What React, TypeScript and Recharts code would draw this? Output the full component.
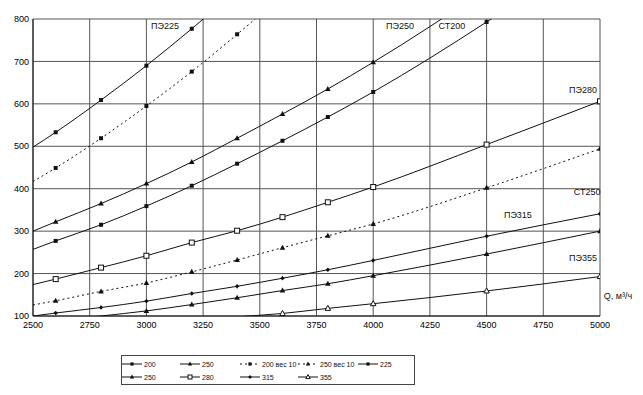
import { LineChart, Line, XAxis, YAxis, CartesianGrid, ReferenceDot } from 'recharts'

// flow rate, m3/h
const qValues = [2500, 2600, 2800, 3000, 3200, 3400, 3600, 3800, 4000, 4500, 5000]

// pressure loss per series (null = no point)
const st200 = [257, 277, 315, 359, 407, 459, 513, 569, 628, 793, 975]
const st250 = [null, 88, 100, 112, 127, 143, 160, 176, 195, 246, 300]
const st200age = [417, 449, 519, 595, 676, 764, 855, null, null, null, null]
const st250age = [126, 136, 158, 178, 204, 232, 261, 289, 317, 402, 494]
const pe225 = [498, 533, 609, 690, 777, 868, null, null, null, null, null]
const pe250 = [300, 322, 365, 412, 463, 519, 576, 635, 698, 870, null]
const pe280 = [174, 187, 214, 242, 273, 301, 333, 368, 404, 504, 606]
const pe315 = [100, 107, 120, 135, 153, 170, 189, 209, 231, 288, 341]
const pe355 = [null, null, null, null, 89, 98, 106, 118, 129, 159, 193]

const xTicks = [2500, 2750, 3000, 3250, 3500, 3750, 4000, 4250, 4500, 4750, 5000]
const yTicks = [100, 200, 300, 400, 500, 600, 700, 800]

const curveNames = ['ПЭ225', 'ПЭ250', 'СТ200', 'ПЭ280', 'СТ250', 'ПЭ315', 'ПЭ355', 'Q, м³/ч']
const curveNameQ = [3082, 4118, 4347, 4925, 4943, 4638, 4925, 5079]
const curveNameV = [783, 783, 783, 632, 392, 338, 237, 148]

type Shape = 'sq' | 'tri' | 'osq' | 'plus' | 'otri'

const series: { name: string; values: (number | null)[]; shape: Shape; dash?: string }[] = [
  { name: '200', values: st200, shape: 'sq' },
  { name: '250', values: st250, shape: 'tri' },
  { name: '200 вес 10', values: st200age, shape: 'sq', dash: '2 3' },
  { name: '250 вес 10', values: st250age, shape: 'tri', dash: '2 3' },
  { name: '225', values: pe225, shape: 'sq' },
  { name: '250', values: pe250, shape: 'tri' },
  { name: '280', values: pe280, shape: 'osq' },
  { name: '315', values: pe315, shape: 'plus' },
  { name: '355', values: pe355, shape: 'otri' },
]

const INK = '#111'

function Marker({ shape, x, y, s = 1 }: { shape: Shape; x: number; y: number; s?: number }) {
  if (shape === 'sq') return <rect x={x - 2 * s} y={y - 2 * s} width={4 * s} height={4 * s} fill={INK} />
  if (shape === 'osq') return <rect x={x - 2.5 * s} y={y - 2.5 * s} width={5 * s} height={5 * s} fill="#fff" stroke={INK} strokeWidth={1} />
  if (shape === 'tri') return <path d={`M${x},${y - 3 * s} L${x + 2.8 * s},${y + 2 * s} L${x - 2.8 * s},${y + 2 * s} Z`} fill={INK} />
  if (shape === 'otri') return <path d={`M${x},${y - 3 * s} L${x + 2.8 * s},${y + 2 * s} L${x - 2.8 * s},${y + 2 * s} Z`} fill="#fff" stroke={INK} strokeWidth={1} />
  return (
    <g stroke={INK} strokeWidth={1}>
      <line x1={x - 2 * s} y1={y} x2={x + 2 * s} y2={y} />
      <line x1={x} y1={y - 2 * s} x2={x} y2={y + 2 * s} />
      <circle cx={x} cy={y} r={1.2 * s} fill={INK} />
    </g>
  )
}

const makeDot = (shape: Shape, id: string) => (props: any) => {
  const { cx, cy, payload, index } = props
  const k = `${id}-${index}`
  if (payload.q === 2500 || payload.v > 800 || payload.v <= 100) return <g key={k} />
  return <g key={k}><Marker shape={shape} x={cx} y={cy} /></g>
}

function LegendBox() {
  const colX = [122, 180, 240, 298, 358]
  const rowY = [8, 21]
  return (
    <div style={{ position: 'absolute', left: 121, top: 355, width: 292, height: 28, border: '1px solid #444', background: '#fff' }}>
      {series.map((s, i) => {
        const col = i < 5 ? i : i - 5
        const row = i < 5 ? 0 : 1
        return (
          <div key={i} style={{ position: 'absolute', left: colX[col] - 122, top: rowY[row] - 5, height: 10, display: 'flex', alignItems: 'center', fontSize: 7, color: INK, whiteSpace: 'nowrap' }}>
            <svg width={20} height={10}>
              <line x1={0} y1={5} x2={20} y2={5} stroke={INK} strokeWidth={1} strokeDasharray={s.dash} />
              <Marker shape={s.shape} x={10} y={5} s={0.8} />
            </svg>
            <span style={{ marginLeft: 2 }}>{s.name}</span>
          </div>
        )
      })}
    </div>
  )
}

export default function App() {
  return (
    <div style={{ position: 'absolute', left: 0, top: 0, width: 643, height: 395, background: '#fff', fontFamily: '"Liberation Sans", Arial, sans-serif' }}>
      <LineChart width={643} height={395} margin={{ top: 19, right: 43, left: 0, bottom: 59 }}>
        <CartesianGrid stroke="#555" strokeWidth={1} />
        <XAxis
          dataKey="q"
          type="number"
          domain={[2500, 5000]}
          ticks={xTicks}
          allowDataOverflow
          height={20}
          tickLine={false}
          tickSize={4}
          tickMargin={2}
          axisLine={{ stroke: INK }}
          tick={{ fontSize: 9, fill: '#000' }}
        />
        <YAxis
          type="number"
          domain={[100, 800]}
          ticks={yTicks}
          allowDataOverflow
          width={33}
          tickLine={false}
          tickSize={2}
          tickMargin={2}
          axisLine={{ stroke: INK }}
          tick={{ fontSize: 9, fill: '#000' }}
        />
        {series.map((s, i) => {
          const rows = qValues
            .map((q, j) => ({ q, v: s.values[j] }))
            .filter((r) => r.v !== null)
          return (
            <Line
              key={i}
              data={rows}
              dataKey="v"
              name={s.name}
              type="monotone"
              stroke={INK}
              strokeWidth={1}
              strokeDasharray={s.dash}
              dot={makeDot(s.shape, `s${i}`)}
              activeDot={false}
              isAnimationActive={false}
            />
          )
        })}
        {curveNames.map((n, i) => (
          <ReferenceDot
            key={n}
            x={curveNameQ[i]}
            y={curveNameV[i]}
            r={1}
            fill="none"
            stroke="none"
            ifOverflow="visible"
            label={{ value: n, position: 'center', fontSize: 9, fill: INK }}
          />
        ))}
      </LineChart>
      <LegendBox />
    </div>
  )
}
